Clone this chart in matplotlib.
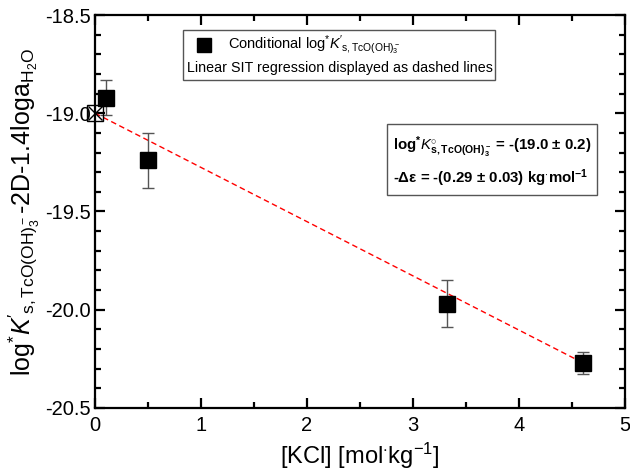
import numpy as np
import matplotlib.pyplot as plt
from matplotlib.patches import Rectangle
from matplotlib.ticker import MultipleLocator

plt.rcParams['font.family'] = ['Liberation Sans', 'DejaVu Sans']
plt.rcParams['mathtext.fontset'] = 'custom'
plt.rcParams['mathtext.rm'] = 'Liberation Sans'
plt.rcParams['mathtext.it'] = 'Liberation Sans:italic'
plt.rcParams['mathtext.bf'] = 'Liberation Sans:bold'
plt.rcParams['axes.unicode_minus'] = False

# conditional data
kcl = [0.1, 0.5, 3.32, 4.6]
logk = [-18.92, -19.24, -19.97, -20.27]
logk_err = [0.09, 0.14, 0.12, 0.055]

# SIT extrapolation at I = 0 and regression line
logk0_x = [0.0]
logk0_y = [-19.0]
fit_intercept = -19.0
fit_slope = -0.276
fit_x = np.array([0.0, 4.6])

fig = plt.figure(figsize=(6.3, 4.71), dpi=100)
ax = fig.add_axes([0.151, 0.134, 0.841, 0.834])

ax.plot(fit_x, fit_intercept + fit_slope * fit_x, color='red', ls=(0, (4, 2.5)), lw=1.0, zorder=2)
ax.errorbar(kcl, logk, yerr=logk_err, fmt='s', color='black', ms=11,
            ecolor='#555555', elinewidth=1.0, capsize=4, capthick=1.0, zorder=3)
ax.plot(logk0_x, logk0_y, 's', mfc='none', mec='black', ms=11, mew=1.0, clip_on=False, zorder=4)
ax.plot(logk0_x, logk0_y, 'x', color='black', ms=10, mew=1.0, clip_on=False, zorder=4)

ax.set_xlim(0, 5)
ax.set_ylim(-20.5, -18.5)
ax.xaxis.set_major_locator(MultipleLocator(1))
ax.xaxis.set_minor_locator(MultipleLocator(0.5))
ax.yaxis.set_major_locator(MultipleLocator(0.5))
ax.yaxis.set_minor_locator(MultipleLocator(0.1))
ax.tick_params(which='both', direction='in', top=True, right=True, width=1.6,
               color='black', labelsize=14.5)
ax.tick_params(which='major', length=7)
ax.tick_params(which='minor', length=4.5)
ax.tick_params(axis='x', pad=6)
ax.tick_params(axis='y', pad=3)
ax.yaxis.set_major_formatter('{x:.1f}')
for s in ax.spines.values():
    s.set_linewidth(1.6)

ax.set_xlabel(r'[KCl] [mol$^{\cdot}$kg$^{-1}$]', fontsize=17, labelpad=4)
ax.set_ylabel(r'log$^{*}$$\mathit{K}$$^{\prime}$$_{\mathrm{s,TcO(OH)_3^-}}$-2D-1.4loga$_{\mathrm{H_2O}}$',
              fontsize=18, labelpad=2)

# legend box
ax.add_patch(Rectangle((0.165, 0.835), 0.59, 0.127, transform=ax.transAxes,
                       fill=False, ec='#555555', lw=1.0, zorder=5))
ax.plot([0.205], [0.924], 's', color='black', ms=10, transform=ax.transAxes, zorder=6)
ax.text(0.25, 0.924, r'Conditional log$^{*}$$\mathit{K}$$^{\prime}$$_{\mathrm{s,TcO(OH)_3^-}}$',
        transform=ax.transAxes, fontsize=10.5, va='center', ha='left')
ax.text(0.173, 0.865, 'Linear SIT regression displayed as dashed lines',
        transform=ax.transAxes, fontsize=10.3, va='center', ha='left')

# result box
ax.add_patch(Rectangle((0.551, 0.542), 0.396, 0.181, transform=ax.transAxes,
                       fill=False, ec='#555555', lw=1.0, zorder=5))
ax.text(0.563, 0.664, r'$\mathbf{log}^{\mathbf{*}}\mathbf{\mathit{K}}^{\mathbf{\circ}}_{\mathbf{s,TcO(OH)_3^-}}$ = -(19.0 ± 0.2)',
        transform=ax.transAxes, fontsize=10.8, fontweight='bold', va='center', ha='left')
ax.text(0.563, 0.585, r'-Δε = -(0.29 ± 0.03) kg$^{\mathbf{\cdot}}$mol$^{\mathbf{-1}}$',
        transform=ax.transAxes, fontsize=10.8, fontweight='bold', va='center', ha='left')

fig.savefig('out.png', dpi=100)
